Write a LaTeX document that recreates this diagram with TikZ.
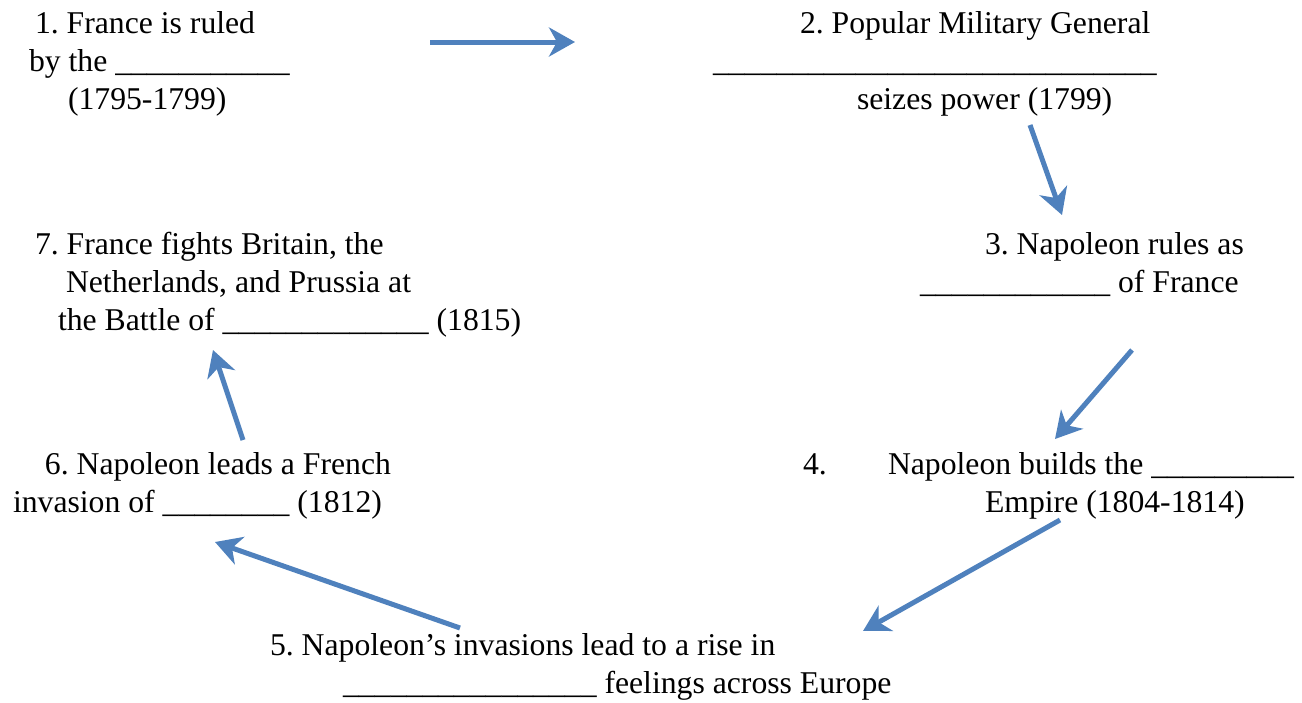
\documentclass[tikz,border=0pt]{standalone}
\usepackage{fontspec}
\setmainfont{Liberation Serif}
\usetikzlibrary{arrows.meta}
\definecolor{arrowblue}{HTML}{4F81BD}
\newcommand{\blank}[1]{\foreach \i in {1,...,#1}{\_}}
\tikzset{
  txt/.style={anchor=base west, inner sep=0pt, outer sep=0pt, font=\fontsize{31.7}{38}\selectfont},
  flow/.style={draw=arrowblue, line width=5pt, -{Stealth[length=26pt, width=29pt, inset=8pt]}}
}
\frenchspacing
\begin{document}
\begin{tikzpicture}[x=1pt, y=-1pt]
\useasboundingbox (0,0) rectangle (1302,702);
% Block 1
\node[txt] (t1a) at (35,33) {1. France is ruled};
\node[txt] (t1b) at (29,71) {by the \blank{11}};
\node[txt] (t1c) at (68,109) {(1795-1799)};
% Block 2
\node[txt] (t2a) at (800,33) {2. Popular Military General};
\node[txt] (t2b) at (713,71) {\blank{28}};
\node[txt] (t2c) at (857,109) {seizes power (1799)};
% Block 3
\node[txt] (t3a) at (985,254) {3. Napoleon rules as};
\node[txt] (t3b) at (920,292) {\blank{12} of France};
% Block 4
\node[txt] (t4n) at (803,474) {4.};
\node[txt] (t4a) at (888,474) {Napoleon builds the \blank{9}};
\node[txt] (t4b) at (985,512) {Empire (1804-1814)};
% Block 5
\node[txt] (t5a) at (270,655) {5. Napoleon’s invasions lead to a rise in};
\node[txt] (t5b) at (343,693) {\blank{16} feelings across Europe};
% Block 6
\node[txt] (t6a) at (45,474) {6. Napoleon leads a French};
\node[txt] (t6b) at (13,512) {invasion of \blank{8} (1812)};
% Block 7
\node[txt] (t7a) at (35,254) {7. France fights Britain, the};
\node[txt] (t7b) at (66,292) {Netherlands, and Prussia at};
\node[txt] (t7c) at (58,330) {the Battle of \blank{13} (1815)};
% Arrow end points
\coordinate (a1s) at (430,42);  \coordinate (a1e) at (575,42);
\coordinate (a2s) at (1030,125); \coordinate (a2e) at (1062,215);
\coordinate (a3s) at (1132,350); \coordinate (a3e) at (1055,439);
\coordinate (a4s) at (1060,520); \coordinate (a4e) at (863,631);
\coordinate (a5s) at (460,628); \coordinate (a5e) at (215,542);
\coordinate (a6s) at (243,440); \coordinate (a6e) at (213,350);
\draw[flow] (a1s) -- (a1e);
\draw[flow] (a2s) -- (a2e);
\draw[flow] (a3s) -- (a3e);
\draw[flow] (a4s) -- (a4e);
\draw[flow] (a5s) -- (a5e);
\draw[flow] (a6s) -- (a6e);
\end{tikzpicture}
\end{document}
